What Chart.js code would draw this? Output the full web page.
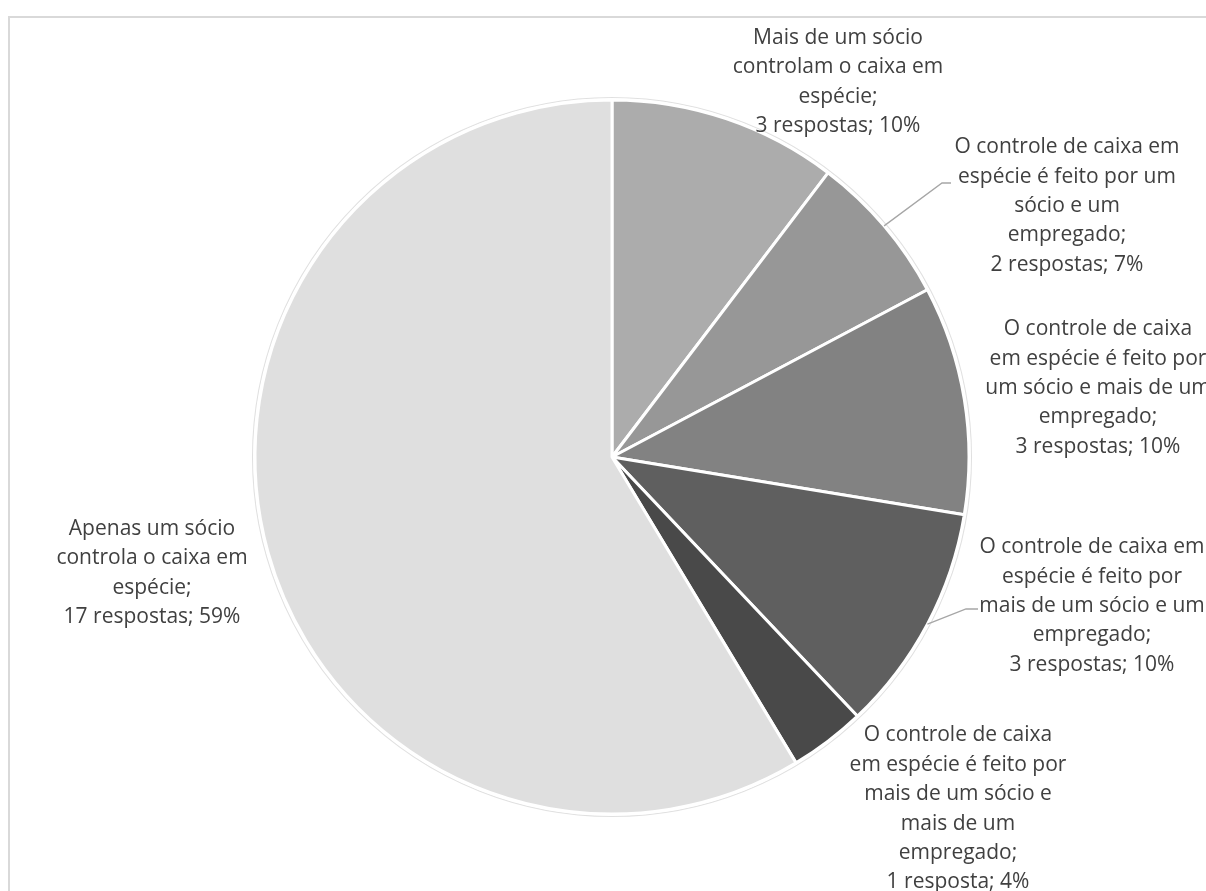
<!DOCTYPE html>
<html lang="pt">
<head>
<meta charset="utf-8">
<title>Controle do caixa em espécie</title>
<script src="https://cdn.jsdelivr.net/npm/chart.js@4.4.1/dist/chart.umd.min.js"></script>
<style>
  html, body { margin: 0; padding: 0; background: #ffffff; overflow: hidden; }
  #stage { position: relative; width: 1206px; height: 891px; overflow: hidden; }
  #frame {
    position: absolute; left: 8px; top: 16px;
    width: 1400px; height: 1000px;
    border: 2px solid #d9d9d9; box-sizing: border-box;
  }
  #pie { position: absolute; left: 0; top: 0; }
</style>
</head>
<body>
<div id="stage">
  <div id="frame"></div>
  <canvas id="pie" width="1206" height="891"></canvas>
</div>
<script>
// Categorias (com quebras de linha como aparecem nos rótulos)
const categories = [
  "Mais de um sócio\ncontrolam o caixa em\nespécie;",
  "O controle de caixa em\nespécie é feito por um\nsócio e um\nempregado;",
  "O controle de caixa\nem espécie é feito por\num sócio e mais de um\nempregado;",
  "O controle de caixa em\nespécie é feito por\nmais de um sócio e um\nempregado;",
  "O controle de caixa\nem espécie é feito por\nmais de um sócio e\nmais de um\nempregado;",
  "Apenas um sócio\ncontrola o caixa em\nespécie;"
];
// Número de respostas por categoria
const responses = [3, 2, 3, 3, 1, 17];
// Percentuais exibidos nos rótulos
const percentLabels = [10, 7, 10, 10, 4, 59];

const sliceColors = ["#acacac", "#979797", "#828282", "#5f5f5f", "#494949", "#dfdfdf"];

// Posição de cada rótulo em relação ao centro da pizza (px) e linhas de chamada
const labelOffsets = [
  { dx: 226, dy: -375 },
  { dx: 455, dy: -251 },
  { dx: 486, dy: -69 },
  { dx: 480, dy: 149 },
  { dx: 346, dy: 352 },
  { dx: -460, dy: 116 }
];
const leaderLines = {
  1: [{ dx: 330, dy: -274 }, { dx: 339, dy: -274 }],
  3: [{ dx: 354, dy: 152 }, { dx: 366, dy: 152 }]
};

const FONT = '21px "Open Sans", "Segoe UI", sans-serif';
const LINE_H = 29.4;
const TEXT_COLOR = "#404040";

function labelText(i) {
  const r = responses[i];
  return categories[i].split("\n").concat(
    r + (r === 1 ? " resposta; " : " respostas; ") + percentLabels[i] + "%"
  );
}

const pieDecor = {
  id: "pieDecor",
  beforeDatasetsDraw(chart) {
    const arc = chart.getDatasetMeta(0).data[0];
    if (!arc) return;
    const ctx = chart.ctx;
    ctx.save();
    ctx.beginPath();
    ctx.arc(arc.x, arc.y, arc.outerRadius + 2.5, 0, Math.PI * 2);
    ctx.strokeStyle = "rgba(0,0,0,0.12)";
    ctx.lineWidth = 1.1;
    ctx.stroke();
    ctx.restore();
  },
  afterDatasetsDraw(chart) {
    const meta = chart.getDatasetMeta(0);
    const ctx = chart.ctx;
    const cx = meta.data[0].x, cy = meta.data[0].y;
    ctx.save();
    // linhas de chamada
    ctx.strokeStyle = "#a6a6a6";
    ctx.lineWidth = 1.3;
    Object.keys(leaderLines).forEach(k => {
      const el = meta.data[k];
      const mid = (el.startAngle + el.endAngle) / 2;
      const r = el.outerRadius;
      ctx.beginPath();
      ctx.moveTo(cx + Math.cos(mid) * r, cy + Math.sin(mid) * r);
      leaderLines[k].forEach(p => ctx.lineTo(cx + p.dx, cy + p.dy));
      ctx.stroke();
    });
    // rótulos
    ctx.font = FONT;
    ctx.fillStyle = TEXT_COLOR;
    ctx.textAlign = "center";
    ctx.textBaseline = "middle";
    meta.data.forEach((el, i) => {
      const lines = labelText(i);
      const x = cx + labelOffsets[i].dx;
      const y0 = cy + labelOffsets[i].dy - (lines.length - 1) * LINE_H / 2;
      lines.forEach((t, j) => ctx.fillText(t, x, y0 + j * LINE_H));
    });
    ctx.restore();
  }
};

new Chart(document.getElementById("pie"), {
  type: "pie",
  data: {
    labels: categories.map(c => c.replace(/\n/g, " ")),
    datasets: [{
      data: responses,
      backgroundColor: sliceColors,
      borderColor: "#ffffff",
      borderWidth: 3,
      borderAlign: "center"
    }]
  },
  options: {
    responsive: false,
    animation: false,
    rotation: 0,
    layout: { padding: { left: 253.5, right: 235.5, top: 98.5, bottom: 75.5 } },
    plugins: {
      legend: { display: false },
      tooltip: { enabled: false },
      title: { display: false }
    }
  },
  plugins: [pieDecor]
});
</script>
</body>
</html>
